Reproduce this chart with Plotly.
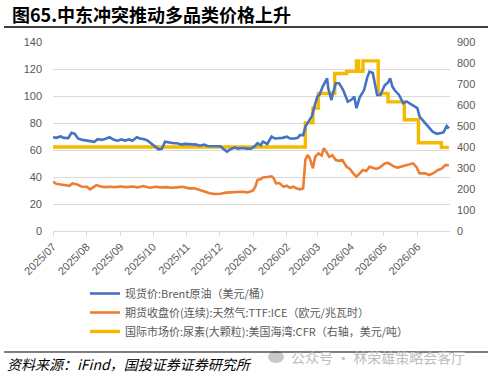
import plotly.graph_objects as go

# ---------------- data ----------------
month_ticks = ["2025-07-01", "2025-08-01", "2025-09-01", "2025-10-01", "2025-11-01", "2025-12-01",
               "2026-01-01", "2026-02-01", "2026-03-01", "2026-04-01", "2026-05-01", "2026-06-01"]
month_labels = ["2025/07", "2025/08", "2025/09", "2025/10", "2025/11", "2025/12",
                "2026/01", "2026/02", "2026/03", "2026/04", "2026/05", "2026/06"]

brent_dates = ["2025-07-01", "2025-07-04", "2025-07-08", "2025-07-11", "2025-07-15", "2025-07-18", "2025-07-21",
               "2025-07-24", "2025-07-28", "2025-08-01", "2025-08-05", "2025-08-08", "2025-08-11", "2025-08-15",
               "2025-08-19", "2025-08-22", "2025-08-26", "2025-08-29", "2025-09-02", "2025-09-05", "2025-09-09",
               "2025-09-12", "2025-09-16", "2025-09-19", "2025-09-23", "2025-09-26", "2025-09-29", "2025-10-01",
               "2025-10-03", "2025-10-06", "2025-10-09", "2025-10-12", "2025-10-16", "2025-10-20", "2025-10-23",
               "2025-10-27", "2025-10-30", "2025-11-03", "2025-11-06", "2025-11-10", "2025-11-13", "2025-11-17",
               "2025-11-20", "2025-11-24", "2025-11-28", "2025-12-02", "2025-12-05", "2025-12-08", "2025-12-11",
               "2025-12-15", "2025-12-18", "2025-12-22", "2025-12-26", "2025-12-30", "2026-01-02", "2026-01-05",
               "2026-01-08", "2026-01-10", "2026-01-14", "2026-01-18", "2026-01-21", "2026-01-24", "2026-01-28",
               "2026-02-01", "2026-02-04", "2026-02-08", "2026-02-11", "2026-02-13", "2026-02-16", "2026-02-18",
               "2026-02-21", "2026-02-24", "2026-02-26", "2026-03-01", "2026-03-03", "2026-03-06", "2026-03-10",
               "2026-03-11", "2026-03-14", "2026-03-15", "2026-03-18", "2026-03-21", "2026-03-23", "2026-03-25",
               "2026-03-29", "2026-04-01", "2026-04-04", "2026-04-06", "2026-04-09", "2026-04-13", "2026-04-16",
               "2026-04-18", "2026-04-21", "2026-04-23", "2026-04-25", "2026-04-28", "2026-05-02", "2026-05-05",
               "2026-05-07", "2026-05-09", "2026-05-11", "2026-05-15", "2026-05-19", "2026-05-22", "2026-05-27",
               "2026-06-01", "2026-06-03", "2026-06-07", "2026-06-10", "2026-06-12", "2026-06-15", "2026-06-19",
               "2026-06-22", "2026-06-25", "2026-06-28", "2026-06-30"]
brent_values = [69.5, 69.0, 70.0, 69.0, 68.8, 72.8, 72.0,
                68.6, 67.5, 66.9, 66.5, 66.0, 68.0, 67.5,
                68.5, 69.4, 67.5, 66.9, 67.8, 67.0, 67.8,
                66.8, 69.4, 68.5, 68.0, 66.9, 65.0, 64.0,
                62.5, 60.5, 60.8, 66.2, 65.5, 65.0, 65.0,
                64.0, 64.5, 64.3, 63.7, 64.0, 63.2, 64.0,
                63.0, 63.0, 62.5, 62.8, 60.5, 58.8, 60.5,
                61.8, 61.0, 61.5, 61.0, 61.0, 62.5, 65.0,
                63.5, 66.2, 64.5, 69.9, 68.5, 68.5, 69.0,
                69.9, 68.5, 68.5, 69.0, 71.0, 71.0, 77.3,
                81.0, 85.0, 91.0, 99.5, 101.0, 107.0, 113.0,
                106.0, 97.0, 101.0, 109.4, 109.4, 107.0, 104.0,
                95.8, 97.0, 99.5, 91.0, 99.0, 104.4, 114.0,
                118.0, 117.0, 110.0, 100.7, 100.7, 108.0, 110.0,
                113.0, 107.0, 104.4, 101.0, 94.6, 96.0, 93.3,
                91.0, 84.7, 81.0, 78.5, 77.0, 73.6, 72.0,
                72.3, 73.0, 77.8, 76.0]

ttf_dates = ["2025-07-01", "2025-07-04", "2025-07-08", "2025-07-12", "2025-07-16", "2025-07-19", "2025-07-23",
             "2025-07-27", "2025-08-01", "2025-08-04", "2025-08-07", "2025-08-10", "2025-08-14", "2025-08-18",
             "2025-08-22", "2025-08-27", "2025-09-01", "2025-09-06", "2025-09-12", "2025-09-17", "2025-09-22",
             "2025-09-28", "2025-10-03", "2025-10-08", "2025-10-13", "2025-10-18", "2025-10-23", "2025-10-28",
             "2025-11-03", "2025-11-08", "2025-11-13", "2025-11-18", "2025-11-22", "2025-11-27", "2025-12-02",
             "2025-12-07", "2025-12-12", "2025-12-17", "2025-12-22", "2025-12-27", "2026-01-01", "2026-01-03",
             "2026-01-05", "2026-01-08", "2026-01-10", "2026-01-14", "2026-01-18", "2026-01-20", "2026-01-22",
             "2026-01-25", "2026-01-29", "2026-02-01", "2026-02-04", "2026-02-07", "2026-02-10", "2026-02-13",
             "2026-02-16", "2026-02-18", "2026-02-20", "2026-02-22", "2026-02-25", "2026-02-27", "2026-03-02",
             "2026-03-05", "2026-03-07", "2026-03-09", "2026-03-12", "2026-03-15", "2026-03-18", "2026-03-21",
             "2026-03-24", "2026-03-28", "2026-03-31", "2026-04-03", "2026-04-06", "2026-04-09", "2026-04-12",
             "2026-04-15", "2026-04-18", "2026-04-21", "2026-04-24", "2026-04-27", "2026-05-02", "2026-05-05",
             "2026-05-08", "2026-05-11", "2026-05-14", "2026-05-18", "2026-05-22", "2026-05-28", "2026-05-31",
             "2026-06-03", "2026-06-08", "2026-06-12", "2026-06-16", "2026-06-20", "2026-06-23", "2026-06-27",
             "2026-06-30"]
ttf_values = [36.5, 35.0, 34.5, 34.0, 33.5, 35.3, 34.5,
              33.0, 32.8, 30.9, 32.5, 34.0, 33.0, 32.5,
              32.8, 32.5, 33.0, 32.5, 33.0, 32.3, 33.3,
              32.1, 32.8, 32.3, 32.5, 32.0, 32.3, 32.8,
              31.6, 31.6, 30.4, 29.0, 27.9, 27.4, 27.6,
              28.4, 28.6, 28.4, 29.1, 28.6, 30.0, 32.8,
              37.8, 38.5, 39.7, 40.0, 40.5, 39.0, 35.3,
              35.5, 32.8, 33.5, 32.0, 32.8, 31.5, 30.9,
              31.5, 52.6, 56.3, 54.0, 46.4, 55.0, 57.5,
              56.0, 61.3, 59.0, 55.0, 56.0, 52.6, 52.0,
              52.6, 47.6, 46.0, 42.7, 40.2, 42.7, 45.2,
              44.5, 47.6, 46.8, 46.0, 46.8, 50.1, 50.5,
              49.0, 47.6, 47.0, 48.0, 48.9, 50.1, 47.6,
              42.7, 42.7, 41.5, 43.0, 45.2, 46.0, 48.9,
              48.5]

urea_dates = ["2025-07-01", "2026-02-18", "2026-02-25", "2026-03-02", "2026-03-17", "2026-03-28",
              "2026-04-06", "2026-04-08", "2026-04-12", "2026-04-26", "2026-05-05", "2026-05-20",
              "2026-06-02", "2026-06-23", "2026-06-30"]
urea_values = [400, 515, 585, 655, 750, 760,
               810, 760, 810, 655, 615, 530,
               420, 398, 398]

# ---------------- geometry helpers (pixel -> paper) ----------------
W, H = 488, 376
L, R, T, B = 53, 450, 42, 231


def px(x):
    return (x - L) / (R - L)


def py(y):
    return 1 - (y - T) / (B - T)


GRAY = "#595959"
TICKFONT = dict(family="Liberation Sans, Arial", size=11, color=GRAY)

fig = go.Figure()
fig.add_trace(go.Scatter(x=brent_dates, y=brent_values, mode="lines", yaxis="y2",
                         name="现货价:Brent原油（美元/桶）",
                         line=dict(color="#4472C4", width=2.6)))
fig.add_trace(go.Scatter(x=ttf_dates, y=ttf_values, mode="lines", yaxis="y2",
                         name="期货收盘价(连续):天然气:TTF:ICE（欧元/兆瓦时）",
                         line=dict(color="#ED7D31", width=2.6)))
fig.add_trace(go.Scatter(x=urea_dates, y=urea_values, mode="lines", yaxis="y",
                         name="国际市场价:尿素(大颗粒):美国海湾:CFR（右轴，美元/吨）",
                         line=dict(color="#F5BA00", width=3.4, shape="hv")))

fig.update_layout(
    width=W, height=H,
    margin=dict(l=L, r=W - R, t=T, b=H - B),
    paper_bgcolor="white", plot_bgcolor="white",
    font=dict(family="Noto Sans CJK SC, Liberation Sans", color=GRAY),
    xaxis=dict(type="date", range=["2025-07-01", "2026-07-01"],
               tickvals=month_ticks, ticktext=month_labels, tickangle=-45,
               tickfont=TICKFONT, showgrid=False, showline=True, linecolor="#d9d9d9",
               linewidth=1, ticks="outside", ticklen=4, tickcolor="#d9d9d9"),
    yaxis=dict(side="right", range=[0, 900], dtick=100, showgrid=False, zeroline=False,
               tickfont=TICKFONT, ticks="", ticklabelstandoff=6),
    yaxis2=dict(side="left", overlaying="y", range=[0, 140], dtick=20, showgrid=True,
                gridcolor="#d9d9d9", gridwidth=1, zeroline=False, tickfont=TICKFONT,
                ticks="", ticklabelstandoff=10),
    showlegend=True,
    legend=dict(x=px(85), y=py(279), xanchor="left", yanchor="top",
                font=dict(family="Noto Sans CJK SC, Liberation Sans", size=11, color=GRAY),
                bgcolor="rgba(0,0,0,0)", itemwidth=30, tracegroupgap=0),
)

# title
fig.add_annotation(x=px(10), y=py(14), xref="paper", yref="paper", xanchor="left", yanchor="middle",
                   text="<b>图65.中东冲突推动多品类价格上升</b>", showarrow=False,
                   font=dict(family="Noto Sans CJK SC", size=18, color="#000000"))
# source
fig.add_annotation(x=px(5), y=py(364), xref="paper", yref="paper", xanchor="left", yanchor="middle",
                   text="<i>资料来源：iFind，国投证券证券研究所</i>", showarrow=False,
                   font=dict(family="Noto Sans CJK SC", size=14, color="#000000"))
# watermark
fig.add_annotation(x=px(289), y=py(357), xref="paper", yref="paper", xanchor="left", yanchor="middle",
                   text="公众号 · 林荣雄策略会客厅", showarrow=False,
                   font=dict(family="Noto Sans CJK SC", size=14, color="#bdbdbd"))

fig.add_shape(type="circle", xref="paper", yref="paper", x0=px(268), x1=px(284), y0=py(363), y1=py(351),
              fillcolor="#c8c8c8", line=dict(width=0))
# rules
fig.add_shape(type="line", xref="paper", yref="paper", x0=px(4), x1=px(488), y0=py(27), y1=py(27),
              line=dict(color="#000000", width=1.5))
fig.add_shape(type="line", xref="paper", yref="paper", x0=px(4), x1=px(488), y0=py(352), y1=py(352),
              line=dict(color="#000000", width=1.2))

fig.write_html("out.html")
